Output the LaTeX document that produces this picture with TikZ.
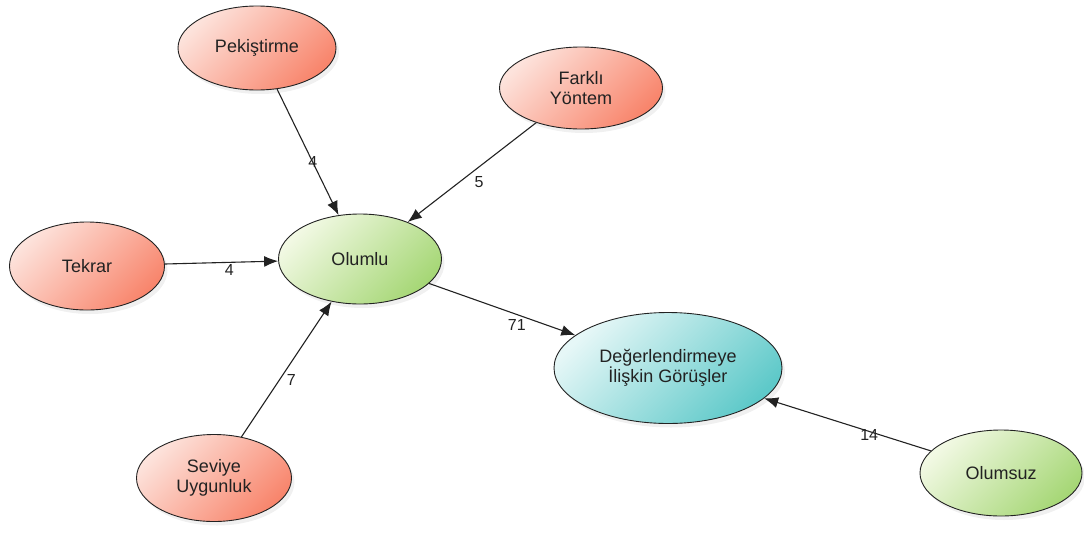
\documentclass[tikz,border=0pt]{standalone}
\usepackage{fontspec}
\setmainfont{Liberation Sans}
\usetikzlibrary{shapes.geometric,arrows.meta,shadows}
\definecolor{redA}{HTML}{FDE3DC}
\definecolor{redB}{HTML}{F8856C}
\definecolor{greenA}{HTML}{F2F9E4}
\definecolor{greenB}{HTML}{A6D776}
\definecolor{cyanA}{HTML}{E6F7F7}
\definecolor{cyanB}{HTML}{5EC9C9}
\definecolor{ink}{HTML}{222222}
\tikzset{
  bubble/.style={ellipse, draw=ink, line width=0.9pt, inner sep=0pt,
    align=center, text=ink, font=\fontsize{18}{20}\selectfont,
    drop shadow={opacity=0.12, shadow xshift=3pt, shadow yshift=-4pt}},
  redbubble/.style={bubble, left color=redA, right color=redB, shading angle=45},
  greenbubble/.style={bubble, left color=greenA, right color=greenB, shading angle=45},
  cyanbubble/.style={bubble, left color=cyanA, right color=cyanB, shading angle=45},
  link/.style={draw=ink, line width=1.1pt, -{Latex[length=14pt,width=11pt]}},
  count/.style={font=\fontsize{16}{18}\selectfont, text=ink, inner sep=0pt}
}
\begin{document}
\begin{tikzpicture}[x=1pt,y=-1pt]
\useasboundingbox (0,0) rectangle (1084,533);

\node[redbubble, minimum width=158pt, minimum height=84pt] (pek) at (257,48) {Pekiştirme};
\node[redbubble, minimum width=163pt, minimum height=82pt] (fark) at (581,88) {Farklı\\Yöntem};
\node[redbubble, minimum width=155pt, minimum height=88pt] (tek) at (87,266) {Tekrar};
\node[greenbubble, minimum width=163pt, minimum height=90pt] (olumlu) at (360,259) {Olumlu};
\node[cyanbubble, minimum width=228pt, minimum height=111pt] (deg) at (668,368) {Değerlendirmeye\\İlişkin Görüşler};
\node[redbubble, minimum width=155pt, minimum height=87pt] (sev) at (214,478) {Seviye\\Uygunluk};
\node[greenbubble, minimum width=162pt, minimum height=86pt] (olumsuz) at (1001,473) {Olumsuz};

\draw[link] (pek) -- node[count, pos=0.58] (c1) {4} (olumlu);
\draw[link] (fark) -- node[count, pos=0.6, xshift=20pt] (c2) {5} (olumlu);
\draw[link] (tek) -- node[count, pos=0.57, yshift=-8pt] (c3) {4} (olumlu);
\draw[link] (olumlu) -- node[count, pos=0.6, yshift=-10pt] (c4) {71} (deg);
\draw[link] (sev) -- node[count, pos=0.42, xshift=12pt] (c5) {7} (olumlu);
\draw[link] (olumsuz) -- node[count, pos=0.37, yshift=-4pt] (c6) {14} (deg);
\end{tikzpicture}
\end{document}
